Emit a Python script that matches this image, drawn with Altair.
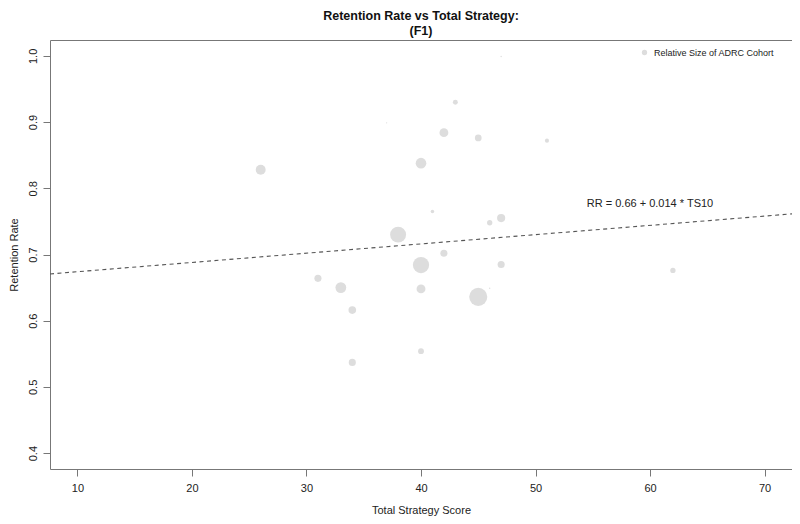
import altair as alt
import pandas as pd

# ---- data ----
scores = [26, 31, 33, 34, 34, 37, 38, 40, 40, 40, 40, 41,
          42, 42, 43, 45, 45, 46, 46, 47, 47, 47, 51, 62]
retention = [0.828, 0.664, 0.650, 0.616, 0.537, 0.899, 0.730, 0.838, 0.684, 0.648, 0.554, 0.765,
             0.884, 0.702, 0.930, 0.876, 0.636, 0.748, 0.649, 0.755, 0.685, 0.999, 0.872, 0.676]
cohort = [314, 160, 372, 185, 160, 5, 810, 360, 846, 250, 109, 40,
          250, 160, 78, 144, 1040, 90, 6, 212, 160, 6, 53, 90]

x_ticks = [10, 20, 30, 40, 50, 60, 70]
y_ticks = [0.4, 0.5, 0.6, 0.7, 0.8, 0.9, 1.0]
x_domain = [7.6, 72.4]
y_domain = [0.376, 1.024]

intercept = 0.66
slope_per10 = 0.014
eq_label = "RR = 0.66 + 0.014 * TS10"
eq_pos = [60, 0.777]
legend_label = "Relative Size of ADRC Cohort"

FONT = "Liberation Sans"

pts = pd.DataFrame({"x": scores, "y": retention, "cohort": cohort,
                    "legend": [legend_label] * len(scores)})
fit = pd.DataFrame({"x": x_domain,
                    "y": [intercept + slope_per10 * v / 10 for v in x_domain]})
eq = pd.DataFrame({"x": [eq_pos[0]], "y": [eq_pos[1]], "label": [eq_label]})

xs = alt.Scale(domain=x_domain, nice=False, zero=False)
ys = alt.Scale(domain=y_domain, nice=False, zero=False)

x_axis = alt.Axis(values=x_ticks, title="Total Strategy Score", labelPadding=6,
                  titleY=41, titleBaseline="middle", format="d")
y_axis = alt.Axis(values=y_ticks, title="Retention Rate", format=".1f",
                  labelAngle=270, labelAlign="center", labelBaseline="bottom",
                  labelPadding=5, titleAngle=270, titleX=-36, titleY=214.5,
                  titleAlign="center", titleBaseline="middle")

points = alt.Chart(pts).mark_circle(opacity=1).encode(
    x=alt.X("x:Q", scale=xs, axis=x_axis),
    y=alt.Y("y:Q", scale=ys, axis=y_axis),
    size=alt.Size("cohort:Q", scale=alt.Scale(type="linear", domain=[0, 1000],
                                               range=[0, 314.16], zero=True),
                  legend=None),
    color=alt.Color("legend:N", scale=alt.Scale(range=["#DDDDDD"]),
                    legend=alt.Legend(title=None, orient="none", legendX=590, legendY=8,
                                      symbolType="circle", symbolSize=28,
                                      symbolStrokeWidth=0, labelFont=FONT,
                                      labelFontSize=9, labelColor="#222",
                                      labelOffset=5, padding=0)),
)

line = alt.Chart(fit).mark_line(color="#555555", strokeDash=[4, 3.5], strokeWidth=1.1).encode(
    x=alt.X("x:Q", scale=xs, axis=x_axis),
    y=alt.Y("y:Q", scale=ys, axis=y_axis),
)

text = alt.Chart(eq).mark_text(font=FONT, fontSize=11, color="#222",
                               align="center", baseline="middle").encode(
    x=alt.X("x:Q", scale=xs, axis=x_axis),
    y=alt.Y("y:Q", scale=ys, axis=y_axis),
    text="label:N",
)

chart = alt.layer(points, line, text).properties(
    width=742, height=429,
    title=alt.TitleParams(text=["Retention Rate vs Total Strategy:", "(F1)"],
                          font=FONT, fontSize=12.5, fontWeight="bold", color="#111",
                          anchor="middle", offset=3, lineHeight=14.5),
    autosize=alt.AutoSizeParams(type="none"),
    padding={"left": 42, "top": 32, "right": 0, "bottom": 47},
    background="white",
).configure_axis(
    labelFont=FONT, labelFontSize=11, labelColor="#222",
    titleFont=FONT, titleFontSize=11, titleFontWeight="normal", titleColor="#222",
    tickColor="#777777", tickSize=7, domain=False, grid=False,
).configure_view(stroke="#777777", strokeWidth=1)

chart.save("out.html", embed_options={"renderer": "svg", "actions": False})
